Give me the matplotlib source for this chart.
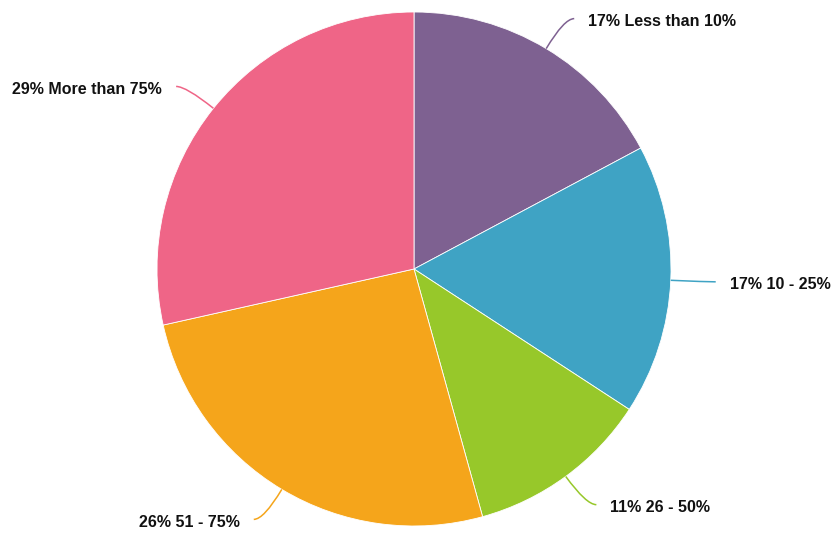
import numpy as np
import matplotlib
matplotlib.use('Agg')
import matplotlib.pyplot as plt
from matplotlib.path import Path
import matplotlib.patches as mpatches

# data
labels = ['Less than 10%', '10 - 25%', '26 - 50%', '51 - 75%', 'More than 75%']
values = [17.2, 17.0, 11.5, 25.8, 28.5]
pct_text = ['17%', '17%', '11%', '26%', '29%']
colors = ['#7E6191', '#3FA3C4', '#97C82A', '#F5A51B', '#EF6587']

W, H = 834, 533
fig = plt.figure(figsize=(W/100, H/100), dpi=100)
ax = fig.add_axes([0, 0, 1, 1])

cx, cy, R = 414, H-269, 257
wedges, _ = ax.pie(values, colors=colors, startangle=90, counterclock=False,
                   center=(cx, cy), radius=R, frame=True,
                   wedgeprops=dict(edgecolor='white', linewidth=0.6))
ax.set_xlim(0, W)
ax.set_ylim(0, H)
ax.axis('off')

# curved leader lines + labels
for w, lab, pt, col in zip(wedges, labels, pct_text, colors):
    a = np.deg2rad((w.theta1+w.theta2)/2)
    p0 = (cx+R*np.cos(a), cy+R*np.sin(a))
    pc = (cx+292*np.cos(a), cy+292*np.sin(a))
    side = 1 if np.cos(a) >= 0 else -1
    p1 = (pc[0]+10*side, pc[1])
    path = Path([p0, pc, p1], [Path.MOVETO, Path.CURVE3, Path.CURVE3])
    ax.add_patch(mpatches.PathPatch(path, fc='none', ec=col, lw=1.1))
    ax.text(p1[0]+14*side, p1[1]-3, pt+' '+lab, ha='left' if side > 0 else 'right',
            va='center', fontsize=11.5, fontweight='bold', family='Liberation Sans',
            color='#111111')

fig.savefig('out.png', dpi=100)
